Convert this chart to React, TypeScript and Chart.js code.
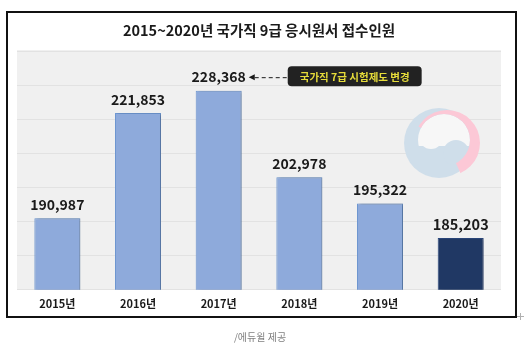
import React, { useEffect, useRef } from 'react';
import { Chart, registerables } from 'chart.js';

Chart.register(...registerables);

const categories = ['2015년', '2016년', '2017년', '2018년', '2019년', '2020년'];
const applicants = [190987, 221853, 228368, 202978, 195322, 185203];
const barColors = ['#8eaadb', '#8eaadb', '#8eaadb', '#8eaadb', '#8eaadb', '#203864'];
const barBorders = ['#6f98d3', '#6f98d3', '#6f98d3', '#6f98d3', '#6f98d3', '#2d4a80'];
const labelSizes = [14, 14, 14, 14, 14, 14.5];
const titleText = '2015~2020년 국가직 9급 응시원서 접수인원';
const noteText = '국가직 7급 시험제도 변경';
const noteIndex = 2;
const sourceText = '/에듀윌 제공';
const yMin = 170000;
const yMax = 240000;
const yStep = 10000;

const KR = '"Noto Sans CJK KR", "Noto Sans", sans-serif';

function drawEmblem(ctx: CanvasRenderingContext2D) {
  const blue = '#cfdeea';
  ctx.save();
  // blue disc
  ctx.fillStyle = blue;
  ctx.beginPath();
  ctx.arc(439, 143, 35, 0, Math.PI * 2);
  ctx.fill();
  // white swirl (inside inner circle)
  ctx.save();
  ctx.beginPath();
  ctx.arc(444, 140, 26, 0, Math.PI * 2);
  ctx.clip();
  ctx.fillStyle = '#f7f7f7';
  ctx.fillRect(410, 100, 70, 46);
  ctx.beginPath();
  ctx.arc(431, 137, 12, 0, Math.PI * 2);
  ctx.fill();
  ctx.fillStyle = blue;
  ctx.beginPath();
  ctx.arc(456, 153, 13, 0, Math.PI * 2);
  ctx.fill();
  ctx.restore();
  // pink crescent
  ctx.save();
  ctx.beginPath();
  ctx.moveTo(447, 143);
  ctx.arc(447, 143, 70, (-150 * Math.PI) / 180, (66 * Math.PI) / 180);
  ctx.closePath();
  ctx.clip();
  ctx.fillStyle = '#fcc8d6';
  ctx.beginPath();
  ctx.arc(447, 143, 33, 0, Math.PI * 2);
  ctx.arc(444, 140, 26, 0, Math.PI * 2, true);
  ctx.fill('evenodd');
  ctx.restore();
  ctx.restore();
}

const decorPlugin = {
  id: 'decor',
  beforeDraw(chart: any) {
    const { ctx, chartArea } = chart;
    ctx.save();
    ctx.fillStyle = '#ffffff';
    ctx.fillRect(0, 0, chart.width, chart.height);
    // frame
    ctx.strokeStyle = '#111111';
    ctx.lineWidth = 2;
    ctx.strokeRect(7, 12, 509, 305);
    // plot background
    ctx.fillStyle = '#f0f0f0';
    ctx.fillRect(chartArea.left, chartArea.top - 1, chartArea.right - chartArea.left, chartArea.bottom - chartArea.top + 1);
    // title
    ctx.fillStyle = '#1a1a1a';
    ctx.font = `bold 14.5px ${KR}`;
    ctx.textAlign = 'center';
    ctx.textBaseline = 'middle';
    ctx.fillText(titleText, 259, 30);
    // source
    ctx.fillStyle = '#808080';
    ctx.font = `10px ${KR}`;
    ctx.fillText(sourceText, 260, 337);
    // small cross mark
    ctx.strokeStyle = '#b0b0b0';
    ctx.lineWidth = 1;
    ctx.beginPath();
    ctx.moveTo(517, 316.5);
    ctx.lineTo(524, 316.5);
    ctx.moveTo(520.5, 313);
    ctx.lineTo(520.5, 320);
    ctx.stroke();
    ctx.restore();
  },
  beforeDatasetsDraw(chart: any) {
    const { ctx } = chart;
    drawEmblem(ctx);
    ctx.save();
    ctx.shadowColor = 'rgba(0,0,0,0.28)';
    ctx.shadowOffsetX = 2;
    ctx.shadowOffsetY = 0;
    ctx.shadowBlur = 3;
  },
  afterDatasetsDraw(chart: any) {
    const { ctx } = chart;
    ctx.restore();
    const meta = chart.getDatasetMeta(0);
    ctx.save();
    ctx.textAlign = 'center';
    ctx.textBaseline = 'middle';
    meta.data.forEach((el: any, i: number) => {
      const txt = applicants[i].toLocaleString('en-US');
      ctx.font = `bold ${labelSizes[i]}px ${KR}`;
      ctx.fillStyle = '#1a1a1a';
      const ly = el.y - 13.5;
      ctx.fillText(txt, el.x, ly);
      if (i === noteIndex) {
        const w = ctx.measureText(txt).width;
        const tipX = el.x + w / 2 + 3;
        const boxX = tipX + 39;
        // arrow head
        ctx.beginPath();
        ctx.moveTo(tipX, ly);
        ctx.lineTo(tipX + 6, ly - 3);
        ctx.lineTo(tipX + 6, ly + 3);
        ctx.closePath();
        ctx.fill();
        // dashed line
        ctx.strokeStyle = '#1a1a1a';
        ctx.lineWidth = 1;
        ctx.setLineDash([4, 3]);
        ctx.beginPath();
        ctx.moveTo(tipX + 6, ly + 0.5);
        ctx.lineTo(boxX, ly + 0.5);
        ctx.stroke();
        ctx.setLineDash([]);
        // note box
        ctx.font = `bold 10.5px ${KR}`;
        const nw = ctx.measureText(noteText).width;
        const bw = nw + 24;
        const bh = 20;
        const by = ly - bh / 2 - 1;
        ctx.fillStyle = '#222222';
        ctx.beginPath();
        (ctx as any).roundRect(boxX, by, bw, bh, 4);
        ctx.fill();
        ctx.fillStyle = '#e6dc3a';
        ctx.fillText(noteText, boxX + bw / 2, by + bh / 2 + 0.5);
      }
    });
    ctx.restore();
  },
};

export default function App() {
  const canvasRef = useRef<HTMLCanvasElement | null>(null);

  useEffect(() => {
    if (!canvasRef.current) return;
    const chart = new Chart(canvasRef.current, {
      type: 'bar',
      data: {
        labels: categories,
        datasets: [
          {
            data: applicants,
            backgroundColor: barColors,
            borderColor: barBorders,
            borderWidth: 1,
            barPercentage: 0.57,
            categoryPercentage: 1,
          },
        ],
      },
      options: {
        animation: false,
        responsive: false,
        maintainAspectRatio: false,
        layout: { padding: { left: 17, right: 27, top: 51, bottom: 34 } },
        plugins: {
          legend: { display: false },
          title: { display: false },
          tooltip: { enabled: false },
        },
        scales: {
          x: {
            grid: { display: false, drawTicks: false },
            border: { display: false },
            ticks: {
              color: '#1a1a1a',
              padding: 7,
              font: { family: KR, size: 11, weight: 'bold' },
            },
          },
          y: {
            min: yMin,
            max: yMax,
            ticks: { display: false, stepSize: yStep },
            grid: { color: '#e2e2e2', lineWidth: 1, drawTicks: false },
            border: { display: false },
          },
        },
      },
      plugins: [decorPlugin],
    });
    return () => chart.destroy();
  }, []);

  return (
    <div style={{ position: 'absolute', left: 0, top: 0, width: 528, height: 351 }}>
      <canvas ref={canvasRef} width={528} height={351} style={{ width: 528, height: 351, display: 'block' }} />
    </div>
  );
}
